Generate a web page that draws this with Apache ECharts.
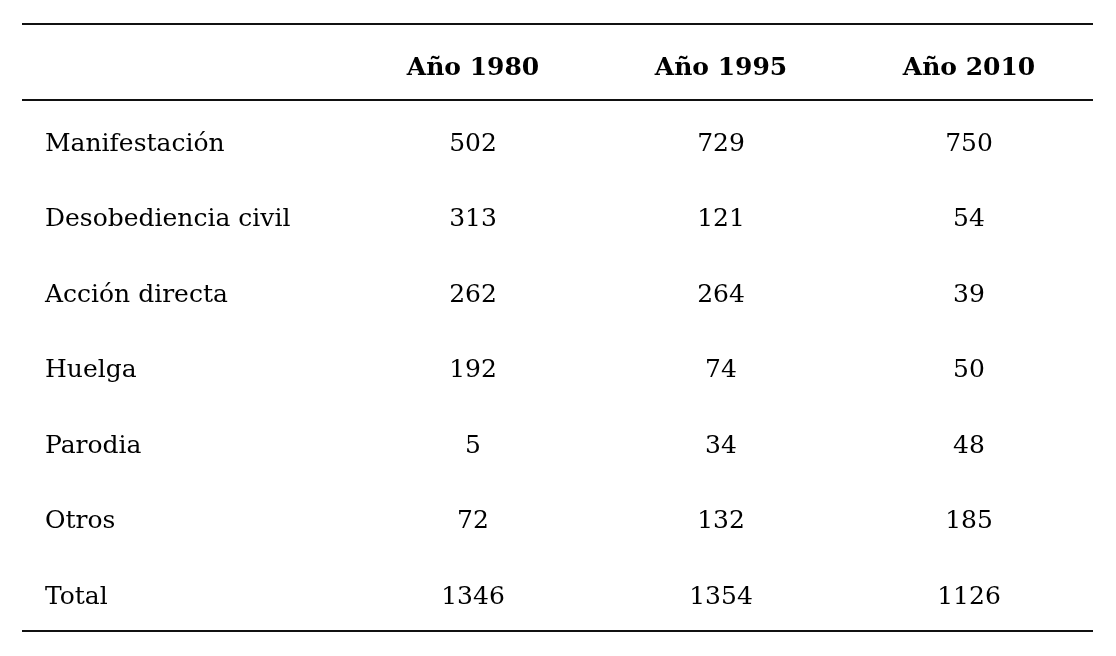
<!DOCTYPE html>
<html>
<head>
<meta charset="utf-8">
<script src="https://cdn.jsdelivr.net/npm/echarts@6/dist/echarts.min.js"></script>
<style>html,body{margin:0;padding:0;background:#fff}#chart{width:1116px;height:656px}</style>
</head>
<body>
<div id="chart"></div>
<script>
const chart = echarts.init(document.getElementById("chart"));

const columns = ["label", "Año 1980", "Año 1995", "Año 2010"];
const rowNames = ["Manifestación", "Desobediencia civil", "Acción directa", "Huelga", "Parodia", "Otros", "Total"];
const year1980 = [502, 313, 262, 192, 5, 72, 1346];
const year1995 = [729, 121, 264, 74, 34, 132, 1354];
const year2010 = [750, 54, 39, 50, 48, 185, 1126];

const rows = ["header"].concat(rowNames);
const font = "DejaVu Serif";

const headerData = columns.slice(1).map(c => [c, "header", c]);
const nameData = rowNames.map(r => ["label", r, r]);
const valueData = [];
[year1980, year1995, year2010].forEach((vals, i) => {
  vals.forEach((v, j) => valueData.push([columns[i + 1], rowNames[j], String(v)]));
});

const textLabel = (extra) => Object.assign({
  show: true,
  position: "inside",
  formatter: p => p.value[2],
  color: "#000",
  opacity: 1,
  textBorderWidth: 0,
  fontFamily: font,
  fontSize: 25
}, extra);

const option = {
  animation: false,
  grid: { left: 101, right: 23, top: 31, bottom: 21 },
  xAxis: { type: "category", data: columns, show: false },
  yAxis: { type: "category", data: rows, inverse: true, show: false },
  series: [
    { type: "scatter", symbolSize: 0, itemStyle: { opacity: 1 }, data: headerData, label: textLabel({ fontWeight: "bold" }) },
    { type: "scatter", symbolSize: 0, itemStyle: { opacity: 1 }, data: valueData, label: textLabel({}) },
    { type: "scatter", symbolSize: 0, itemStyle: { opacity: 1 }, data: nameData, label: textLabel({ align: "left", offset: [-180, 0] }) }
  ],
  graphic: [24, 100, 631].map(y => ({
    type: "line",
    shape: { x1: 22, y1: y, x2: 1093, y2: y },
    style: { stroke: "#111", lineWidth: 2 }
  }))
};

chart.setOption(option);
</script>
</body>
</html>
